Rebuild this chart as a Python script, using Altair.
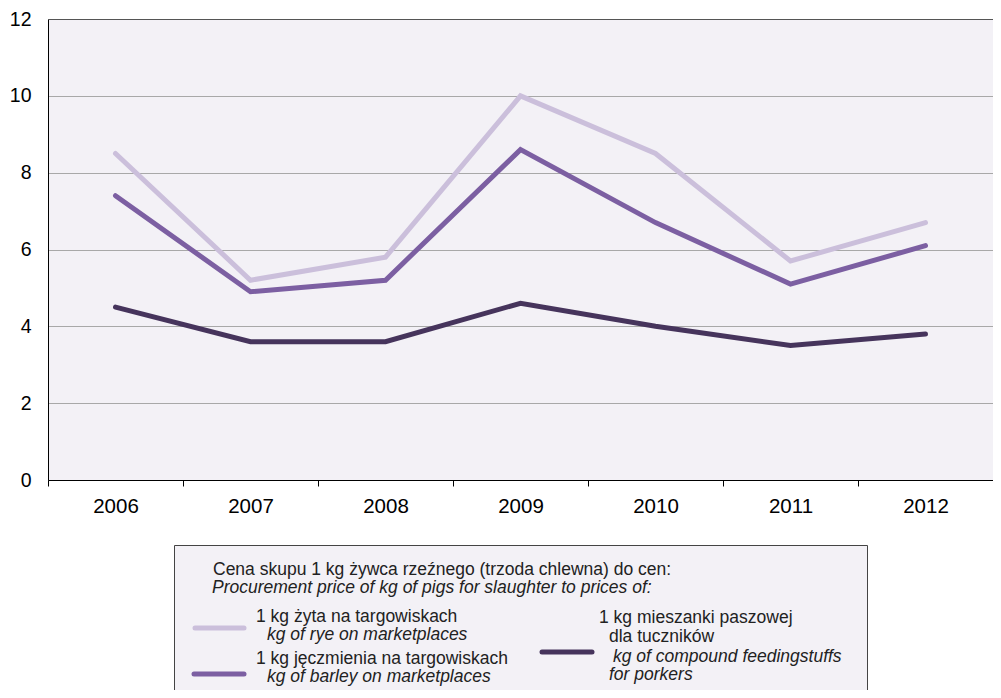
import altair as alt
import pandas as pd

years = ["2006", "2007", "2008", "2009", "2010", "2011", "2012"]
rye = [8.5, 5.2, 5.8, 10.0, 8.5, 5.7, 6.7]
barley = [7.4, 4.9, 5.2, 8.6, 6.7, 5.1, 6.1]
compound = [4.5, 3.6, 3.6, 4.6, 4.0, 3.5, 3.8]
series_names = ["rye", "barley", "compound"]
series_colors = ["#cbbfdb", "#7c5fa2", "#46345c"]

rows = []
for name, vals in zip(series_names, [rye, barley, compound]):
    for y, v in zip(years, vals):
        rows.append({"year": y, "value": v, "series": name})
df = pd.DataFrame(rows)

W, H = 945, 461
FONT = "Liberation Sans"
LFS = 17.5
OY = 11  # top padding; legend positions are given relative to page y minus (8 + OY)

lines = alt.Chart(df).mark_line(strokeWidth=5, strokeCap="round", strokeJoin="miter").encode(
    x=alt.X("year:O", bandPosition=0.5,
            scale=alt.Scale(type="band", paddingInner=0, paddingOuter=0),
            axis=alt.Axis(title=None, labelAngle=0, tickBand="extent", tickSize=6,
                          tickColor="#000", domainColor="#000", labelFontSize=20.5,
                          labelPadding=10, labelColor="#000", labelFont=FONT, grid=False)),
    y=alt.Y("value:Q", scale=alt.Scale(domain=[0, 12], nice=False),
            axis=alt.Axis(title=None, values=[0, 2, 4, 6, 8, 10, 12], ticks=False,
                          domainColor="#000", gridColor="#a8a8a8", labelFontSize=19.5,
                          labelPadding=17, labelColor="#000", labelFont=FONT)),
    color=alt.Color("series:N", scale=alt.Scale(domain=series_names, range=series_colors), legend=None),
    detail="series:N",
)

one = alt.Data(values=[{}])

top_border = alt.Chart(one).mark_rule(color="#555", strokeWidth=1).encode(
    x=alt.value(0), x2=alt.value(W), y=alt.value(0.5))

d = -1  # shift legend to compensate for the extra top padding
legend_box = alt.Chart(one).mark_rect(fill="#f3f1f6", stroke="#444", strokeWidth=1).encode(
    x=alt.value(126.5), x2=alt.value(819.5), y=alt.value(527.5 + d), y2=alt.value(720))

def txt(s, x, y, italic=False):
    return alt.Chart(one).mark_text(align="left", baseline="alphabetic", fontSize=LFS, font=FONT,
                                    color="#222", fontStyle="italic" if italic else "normal").encode(
        x=alt.value(x), y=alt.value(y + d), text=alt.value(s))

def sym(color, x1, x2, y):
    return alt.Chart(one).mark_rule(color=color, strokeWidth=5, strokeCap="round").encode(
        x=alt.value(x1), x2=alt.value(x2), y=alt.value(y + d))

legend_layers = [
    legend_box,
    txt("Cena skupu 1 kg żywca rzeźnego (trzoda chlewna) do cen:", 165, 557),
    txt("Procurement price of kg of pigs for slaughter to prices of:", 164, 575, True),
    sym(series_colors[0], 147, 196, 610),
    txt("1 kg żyta na targowiskach", 208, 604),
    txt("kg of rye on marketplaces", 219, 622, True),
    sym(series_colors[1], 146, 196, 656),
    txt("1 kg jęczmienia na targowiskach", 208, 646),
    txt("kg of barley on marketplaces", 219, 664, True),
    sym(series_colors[2], 494, 544, 634),
    txt("1 kg mieszanki paszowej", 551, 605),
    txt("dla tuczników", 561, 624),
    txt("kg of compound feedingstuffs", 565, 644, True),
    txt("for porkers", 561, 662, True),
]

chart = alt.layer(lines, top_border, *legend_layers).properties(
    width=W, height=H,
    autosize=alt.AutoSizeParams(type="none"),
    padding={"left": 40, "top": OY, "right": 0, "bottom": 210},
    background="#ffffff",
).configure_view(fill="#f3f1f6", stroke=None).configure_axis(labelFont=FONT)

chart.save("out.html", embed_options={"renderer": "svg", "actions": False})
